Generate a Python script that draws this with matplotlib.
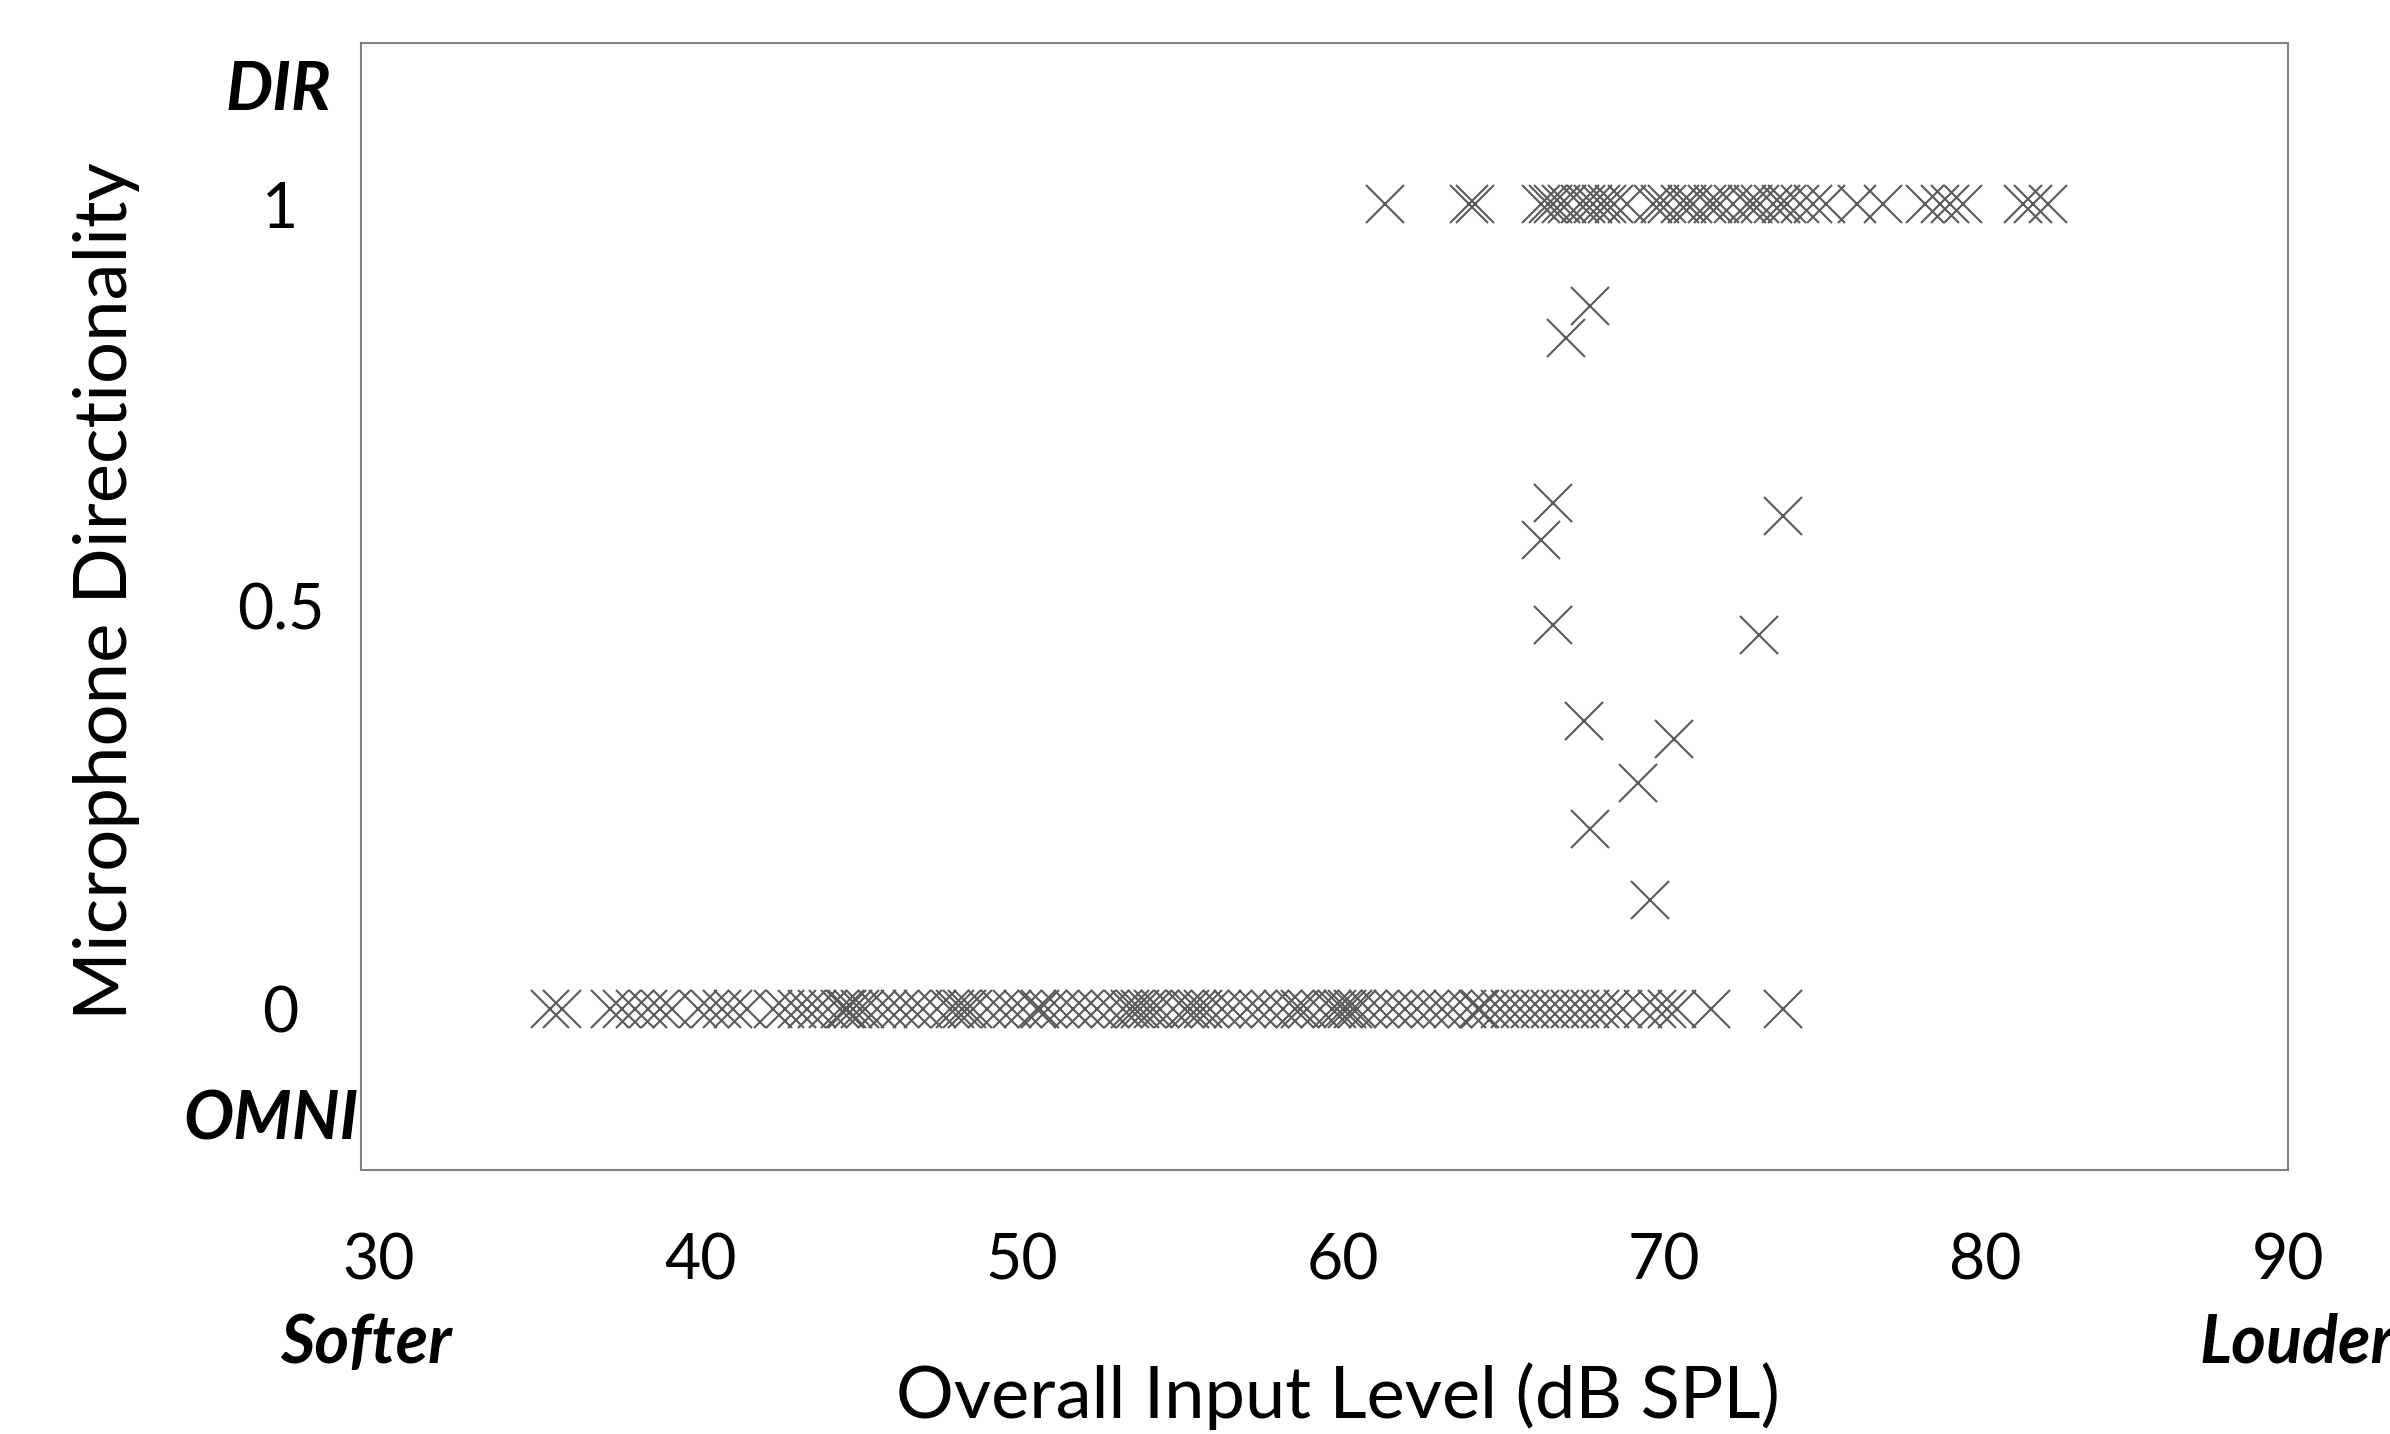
import numpy as np
import matplotlib
matplotlib.use("Agg")
import matplotlib.pyplot as plt
import matplotlib.transforms as mtransforms

# directional (value 1) observations, dB SPL
dir_levels = [61.87, 64.49, 64.69, 66.74, 66.95, 67.12, 67.35, 67.54, 67.95, 68.15,
              68.37, 68.60, 68.79, 69.00, 69.41, 70.24, 70.45, 70.65, 71.07, 71.30,
              71.48, 71.90, 72.10, 72.31, 72.73, 73.14, 73.35, 73.56, 73.97, 74.20,
              74.39, 74.80, 75.22, 75.63, 76.57, 77.40, 78.70, 79.16, 79.48, 79.89,
              81.76, 82.07, 82.54]

# omnidirectional (value 0) observations, dB SPL
omni_levels = [35.89, 36.27, 37.75, 38.14, 38.53, 38.95, 39.31, 39.67, 40.50, 40.87,
               41.23, 41.59, 42.01, 42.84, 43.20, 43.57, 43.88, 44.19, 44.55, 44.91,
               45.07, 45.12, 45.33, 45.54, 45.69, 46.06, 46.42, 46.78, 47.15, 47.51,
               47.93, 48.34, 48.49, 48.70, 48.86, 49.07, 49.48, 49.90, 50.26, 50.62,
               51.04, 51.14, 51.40, 51.77, 52.18, 52.54, 52.91, 53.32, 53.74, 53.94,
               54.10, 54.26, 54.46, 54.67, 54.88, 55.29, 55.66, 55.81, 56.02, 56.23,
               56.43, 56.80, 57.16, 57.58, 57.94, 58.30, 58.72, 59.08, 59.24, 59.45,
               59.86, 60.22, 60.38, 60.59, 60.69, 60.90, 61.00, 61.36, 61.73, 62.14,
               62.51, 62.87, 63.29, 63.65, 64.01, 64.43, 64.79, 64.84, 65.15, 65.46,
               65.78, 66.09, 66.40, 66.71, 67.02, 67.33, 67.64, 67.95, 68.27, 68.58,
               68.89, 69.30, 69.93, 70.34, 70.65, 70.97, 72.03, 74.27]

# intermediate directionality
mid_levels = [68.27, 67.52, 67.12, 66.74, 74.27, 67.12, 73.52, 68.07, 70.89, 69.75, 68.26, 70.13]
mid_dir = [0.873, 0.834, 0.629, 0.583, 0.612, 0.477, 0.464, 0.358, 0.335, 0.281, 0.223, 0.135]

xticks = [30, 40, 50, 60, 70, 80, 90]
yticks = [0, 0.5, 1]
ytick_labels = ["0", "0.5", "1"]

plt.rcParams['font.family'] = ['Lato', 'DejaVu Sans']

W, H = 2390, 1434
fig = plt.figure(figsize=(W / 100, H / 100), dpi=100)
ax = fig.add_axes([361 / W, 1 - 1170 / H, (2288 - 361) / W, (1170 - 43) / H])

x = np.concatenate([dir_levels, omni_levels, mid_levels])
y = np.concatenate([np.ones(len(dir_levels)), np.zeros(len(omni_levels)), mid_dir])
ax.plot(x, y, linestyle='none', marker='x', markersize=27,
        markeredgewidth=1.5, color='#5a5a5a')

ax.set_xlim(30, 90)
ax.set_ylim(-0.2, 1.2)
ax.set_xticks(xticks)
ax.set_xticklabels([str(t) for t in xticks])
ax.set_yticks(yticks)
ax.set_yticklabels(ytick_labels)
ax.tick_params(axis='both', length=0, labelsize=45, colors='black')
ax.tick_params(axis='x', pad=45)
ax.tick_params(axis='y', pad=58)
for lab in ax.get_yticklabels():
    lab.set_horizontalalignment('center')
shift = mtransforms.ScaledTranslation(0.18, 0, fig.dpi_scale_trans)
for lab in ax.get_xticklabels()[:-1]:
    lab.set_transform(lab.get_transform() + shift)

for sp in ax.spines.values():
    sp.set_color('#808080')
    sp.set_linewidth(1.5)

def ftext(px, py, s, **kw):
    fig.text(px / W, 1 - py / H, s, va='center', **kw)

bi = dict(fontsize=48, fontweight='bold', fontstyle='italic')
ftext(278, 91, "DIR", ha='center', **bi)
ftext(271, 1120, "OMNI", ha='center', **bi)
ftext(366, 1343, "Softer", ha='center', **bi)
ftext(2199, 1343, "Louder", ha='left', **bi)
ftext(1338, 1396, "Overall Input Level (dB SPL)", ha='center', fontsize=52)
ftext(107, 591, "Microphone Directionality", ha='center', rotation=90, fontsize=53.5)

fig.savefig("out.png", dpi=100)
